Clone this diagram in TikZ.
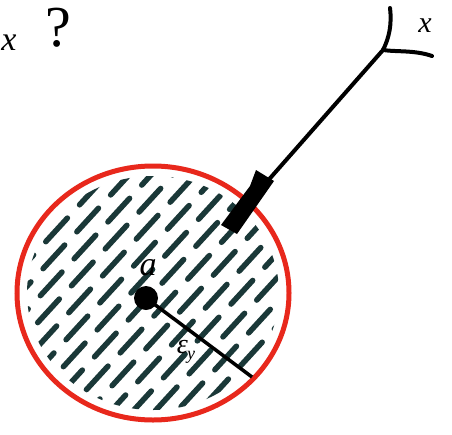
\documentclass[tikz,border=0pt]{standalone}
\usepackage{fontspec}
\setmainfont{Liberation Serif}
\usetikzlibrary{calc}
\definecolor{hatch}{HTML}{1A3838}
\definecolor{ring}{HTML}{E8281C}
\tikzset{
  hatchline/.style={hatch, line width=5.5pt, line cap=round},
  ink/.style={black, line width=4pt, line cap=round},
  lbl/.style={inner sep=0pt, font=\fontsize{34}{36}\selectfont\itshape}
}
\begin{document}
\begin{tikzpicture}[x=1pt,y=1pt]
\useasboundingbox (0,0) rectangle (452,-434);
\fill[white] (0,0) rectangle (452,-434);
% hatching
\begin{scope}
  \clip (153,-293) ellipse [x radius=126, y radius=117];
  \foreach \k in {-14,...,14}{
    \pgfmathsetmacro{\ph}{mod(abs(\k)*29+11,50)}
    \draw[hatchline, dash pattern=on 32pt off 18pt, dash phase=\ph]
      ($(153,-293)+(\k*11.5,-\k*11.5)+(-220,-240)$) -- ($(153,-293)+(\k*11.5,-\k*11.5)+(220,240)$);
  }
\end{scope}
% red circle
\draw[ring, line width=5pt] (153,-293) ellipse [x radius=136, y radius=127];
% point a
\node[circle, fill=black, minimum size=24pt, inner sep=0pt] (a) at (146,-298) {};
\node[lbl] (alab) at (148,-268) {a};
\coordinate (r) at (252,-377);
\draw[black, line width=3.5pt] (a.center) -- (r);
\node[lbl, font=\fontsize{28}{30}\selectfont\itshape] (eps) at (186,-352) {ε\kern-1pt\raisebox{-6pt}{\fontsize{18}{20}\selectfont y}};
% arrow from x
\coordinate (J) at (383,-50);
\coordinate (tip) at (228,-226);
\draw[ink] (J) -- (tip);
\draw[ink] (390,-8) .. controls (392,-25) and (389,-38) .. (J);
\draw[ink] (J) .. controls (396,-52) and (415,-50) .. (432,-56);
\fill[black] (256,-170) -- (274,-181) -- (237,-234) -- (221,-225) -- (250,-186) -- cycle;
\node[lbl, font=\fontsize{30}{32}\selectfont\itshape] (xlab) at (425,-26) {x};
% top-left
\node[lbl] (xq) at (9,-43) {x};
\node[lbl, font=\fontsize{58}{60}\selectfont] (q) at (58,-28) {?};
\end{tikzpicture}
\end{document}
